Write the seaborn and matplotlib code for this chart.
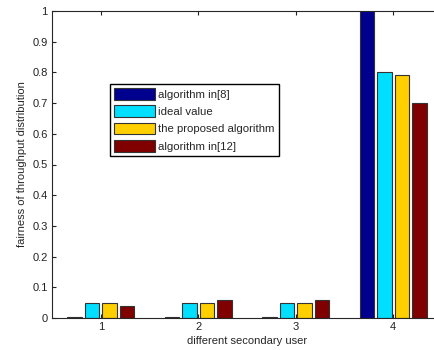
import matplotlib
matplotlib.use("Agg")
import matplotlib.pyplot as plt
import pandas as pd
import seaborn as sns

users = ["1", "2", "3", "4"]
series = ["algorithm in[8]", "ideal value", "the proposed algorithm", "algorithm in[12]"]
alg8 = [0.002, 0.002, 0.002, 1.0]
ideal = [0.05, 0.05, 0.05, 0.80]
proposed = [0.048, 0.05, 0.05, 0.79]
alg12 = [0.04, 0.06, 0.06, 0.70]
colors = ["#00008F", "#00DFFF", "#FFCF00", "#800000"]

df = pd.DataFrame({
    "user": users * 4,
    "algo": [s for s in series for _ in users],
    "value": alg8 + ideal + proposed + alg12,
})

sns.set_style("ticks")
plt.rcParams["font.family"] = ["Liberation Sans", "DejaVu Sans"]
plt.rcParams["xtick.direction"] = "in"
plt.rcParams["ytick.direction"] = "in"

fig = plt.figure(figsize=(4.34, 3.5), dpi=100)
ax = fig.add_axes([52 / 434, 32 / 350, 390 / 434, 307 / 350])

sns.barplot(data=df, x="user", y="value", hue="algo", order=users,
            hue_order=series, palette=dict(zip(series, colors)),
            saturation=1, width=0.72, gap=0.17, edgecolor="#333333",
            linewidth=0.8, ax=ax)

ax.set_xlim(-0.5, 3.5)
ax.set_ylim(0, 1)
ax.set_yticks([i / 10 for i in range(11)])
ax.set_yticklabels(["0"] + [f"{i / 10:.1f}" for i in range(1, 10)] + ["1"])
ax.tick_params(labelsize=8, length=3, width=0.8, top=True, right=True,
               colors="#222222", pad=3)
for s in ax.spines.values():
    s.set_linewidth(0.8)
ax.set_xlabel("different secondary user", fontsize=8, labelpad=3)
ax.set_ylabel("fairness of throughput distribution", fontsize=8, labelpad=4)

ax.legend(loc="upper left", bbox_to_anchor=(110 / 434, 1 - 84 / 350),
          bbox_transform=fig.transFigure, fontsize=8.2, frameon=True,
          fancybox=False, edgecolor="black", framealpha=1,
          handlelength=3.6, handleheight=1.2, labelspacing=0.5,
          handletextpad=0.3, borderpad=0.35, borderaxespad=0)

fig.savefig("out.png", dpi=100)
